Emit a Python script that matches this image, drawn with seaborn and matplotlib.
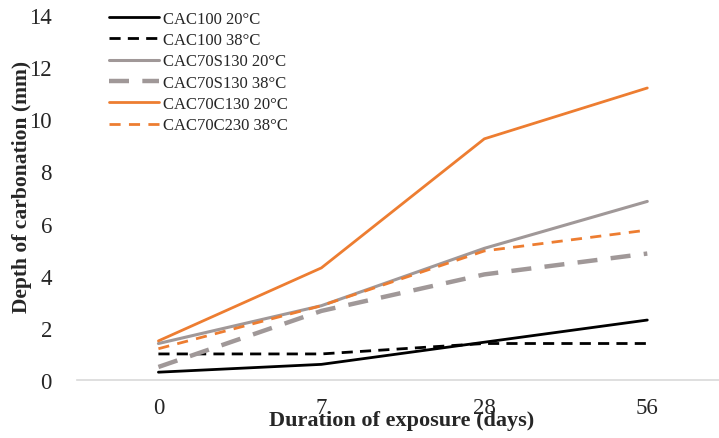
import matplotlib
matplotlib.use("Agg")
import matplotlib.pyplot as plt
import seaborn as sns
import pandas as pd

days = ["0", "7", "28", "56"]
series_names = ["CAC100 20°C", "CAC100 38°C", "CAC70S130 20°C",
                "CAC70S130 38°C", "CAC70C130 20°C", "CAC70C230 38°C"]
cac100_20 = [0.3, 0.6, 1.45, 2.3]
cac100_38 = [1.0, 1.0, 1.4, 1.4]
s130_20 = [1.4, 2.85, 5.05, 6.85]
s130_38 = [0.5, 2.65, 4.05, 4.85]
c130_20 = [1.5, 4.3, 9.25, 11.2]
c230_38 = [1.2, 2.85, 4.95, 5.75]
values = [cac100_20, cac100_38, s130_20, s130_38, c130_20, c230_38]

colors = ["#000000", "#000000", "#A09898", "#A09898", "#ED7D31", "#ED7D31"]
widths = [2.0, 2.0, 2.2, 3.2, 2.0, 2.0]
dashes = [None, (4, 2.6), None, (4.5, 3.0), None, (4, 3.0)]

rows = []
for n, v in zip(series_names, values):
    for d, y in zip(days, v):
        rows.append({"day": d, "depth": y, "series": n})
df = pd.DataFrame(rows)

sns.set_style("white")
plt.rcParams["font.family"] = ["Liberation Serif", "DejaVu Serif"]

fig = plt.figure(figsize=(7.19, 4.39), dpi=100)
ax = fig.add_axes([0.107, 0.1321, 0.893, 0.8315])

for n, c, w, ds in zip(series_names, colors, widths, dashes):
    sub = df[df["series"] == n]
    sns.lineplot(data=sub, x="day", y="depth", ax=ax, color=c, linewidth=w,
                 label=n, sort=False)
    line = ax.get_lines()[-1]
    if ds is not None:
        line.set_dashes(ds)
        line.set_dash_capstyle("butt")

ax.set_ylim(0, 14)
ax.set_yticks(range(0, 15, 2))
ax.set_xlim(-0.5, 3.44)
for s in ["top", "right", "left"]:
    ax.spines[s].set_visible(False)
ax.spines["bottom"].set_color("#D9D9D9")
ax.spines["bottom"].set_linewidth(1.2)
ax.tick_params(axis="both", length=0, labelsize=16.5, colors="#262626")
ax.tick_params(axis="x", pad=12)
ax.tick_params(axis="y", pad=18)
ax.set_xlabel("Duration of exposure (days)", fontsize=16, fontweight="bold",
              va="center")
ax.set_ylabel("Depth of carbonation (mm)", fontsize=15.5, fontweight="bold",
              va="center")
ax.xaxis.set_label_coords(0.505, -0.110)
ax.yaxis.set_label_coords(-0.0857, 0.531)

leg = ax.legend(loc="upper left", bbox_to_anchor=(0.039, 1.03), frameon=False,
                fontsize=12, handlelength=3.0, handletextpad=0.25,
                labelspacing=0.32, borderaxespad=0)

fig.savefig("out.png", dpi=100)
